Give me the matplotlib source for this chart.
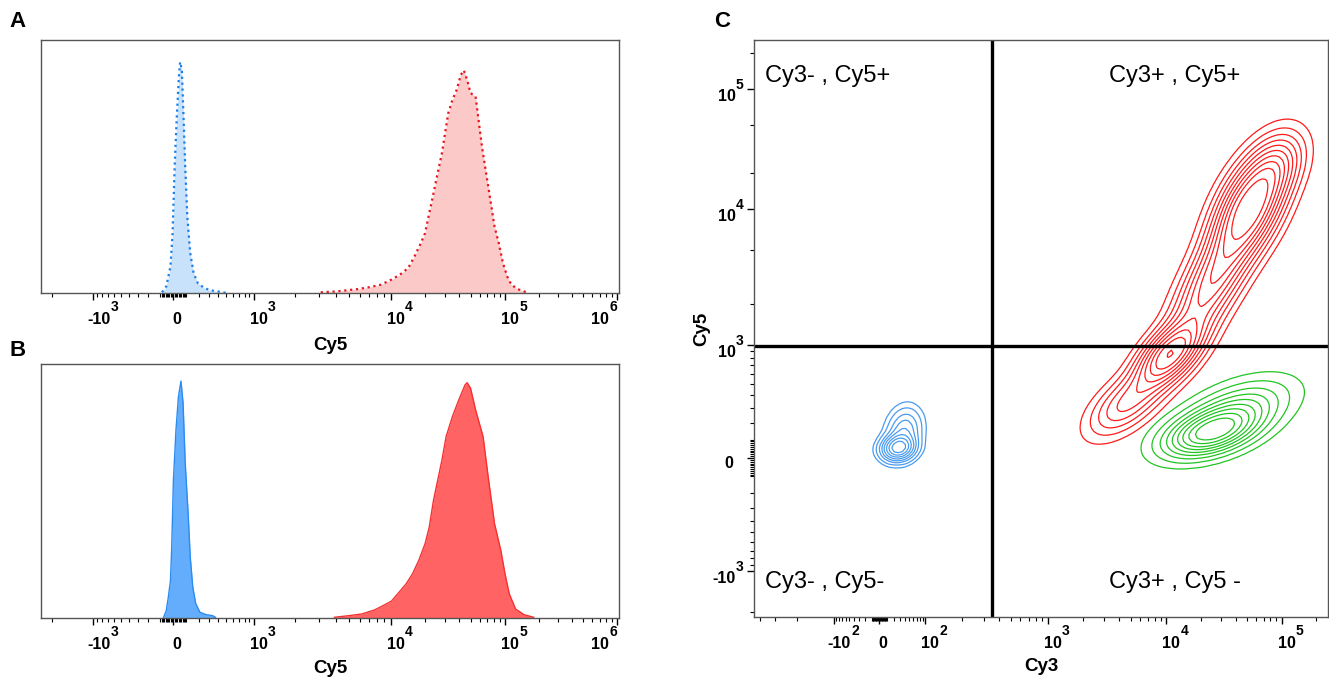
import matplotlib

matplotlib.use("Agg")
import matplotlib.pyplot as plt
import numpy as np
from matplotlib.transforms import blended_transform_factory, offset_copy

plt.rcParams["font.family"] = ["Liberation Sans", "DejaVu Sans"]

# --- axis layout: display channel (0-1024) of each decade on the biex axes
hist_zero_ch = 234.6
hist_decade_ch = {3: 377.0, 4: 619.3, 5: 822.0, 6: 1020.4}
cy3_zero_ch = 223.6
cy3_decade_ch = {2: 304.9, 3: 523.4, 4: 735.3, 5: 940.4}
cy5_zero_ch = 282.2
cy5_decade_ch = {3: 483.3, 4: 723.6, 5: 936.5}

# --- panel A: Cy5 histograms (channel, % of tallest peak)
a_blue_ch = [214.5, 222.0, 229.4, 233.1, 236.8, 240.6, 244.3, 246.5, 249.5,
             252.5, 255.5, 259.2, 264.4, 270.4, 277.8, 289.0, 300.2, 315.1, 330.0]
a_blue_count = [0.3, 2.9, 11.5, 25.9, 54.8, 76.4, 93.7, 100.0, 96.5,
                76.4, 54.8, 33.1, 17.3, 8.6, 4.3, 2.2, 1.2, 0.6, 0.0]
a_red_ch = [495.6, 523.9, 561.2, 583.5, 602.2, 620.8, 635.7, 650.6, 661.8,
            673.0, 680.4, 687.9, 695.4, 702.8, 710.3, 717.7, 721.5, 728.9,
            736.4, 743.8, 749.1, 755.0, 761.0, 766.2, 770.0, 773.7, 781.2,
            788.6, 796.1, 803.5, 811.0, 818.4, 825.9, 833.3, 844.5, 855.7, 863.1]
a_red_count = [0.3, 0.7, 1.7, 2.6, 3.6, 5.8, 7.9, 10.8, 15.9,
               21.6, 25.9, 34.6, 43.2, 51.9, 60.5, 72.0, 77.8, 83.6,
               87.9, 94.4, 96.4, 92.2, 86.5, 85.7, 85.0, 77.8, 63.4,
               51.9, 40.3, 28.8, 21.6, 13.0, 7.2, 3.6, 1.7, 0.7, 0.0]
a_count_max = 109.5

# --- panel B: Cy5 histograms
b_blue_ch = [216.7, 221.9, 225.6, 229.4, 231.6, 234.6, 239.1, 243.5, 248.0,
             251.7, 255.5, 260.7, 264.4, 268.9, 274.1, 281.6, 292.7, 303.9, 309.1]
b_blue_count = [0.0, 3.1, 8.8, 15.8, 29.9, 58.1, 79.2, 93.4, 100.0,
                90.7, 65.3, 44.1, 25.8, 13.1, 6.1, 2.4, 1.4, 1.0, 0.3]
b_red_ch = [520.1, 546.2, 568.6, 591.0, 605.9, 620.8, 632.0, 646.9, 658.1,
            669.3, 680.4, 687.9, 695.4, 702.8, 710.3, 717.7, 728.9, 740.1,
            751.3, 755.0, 761.0, 770.0, 783.3, 792.3, 803.5, 814.7, 822.1,
            829.6, 840.8, 855.7, 872.8]
b_red_count = [0.3, 1.0, 1.7, 3.4, 5.2, 7.1, 10.2, 14.4, 18.6,
               24.3, 31.3, 38.4, 49.7, 58.1, 66.6, 76.5, 85.0, 92.0,
               98.4, 99.3, 97.0, 87.8, 76.5, 59.5, 39.8, 28.5, 18.6,
               10.2, 3.8, 1.4, 0.3]
b_count_max = 107.2

# --- panel C: populations (cy3 ch, cy5 ch, sd cy3, sd cy5, corr, weight)
blue_pop = [(257, 300, 17, 13, 0.1, 1.0),
            (268, 330, 18, 24, 0.15, 0.35)]
red_pop = [(885, 730, 38, 55, 0.55, 1.0),
           (820, 600, 45, 70, 0.75, 0.55),
           (740, 465, 35, 35, 0.6, 0.8),
           (665, 380, 40, 35, 0.6, 0.3),
           (930, 800, 30, 35, 0.4, 0.25)]
green_pop = [(815, 328, 48, 25, 0.45, 1.0),
             (860, 365, 55, 32, 0.5, 0.4)]
blue_levels = [0.03, 0.07, 0.14, 0.22, 0.32, 0.45, 0.6, 0.78]
red_levels = [0.03, 0.07, 0.12, 0.18, 0.25, 0.33, 0.42, 0.52, 0.63, 0.78]
green_levels = [0.03, 0.08, 0.15, 0.23, 0.32, 0.42, 0.53, 0.66, 0.8]
cy3_gate_ch = 424.7
cy5_gate_ch = 481.0
quadrant_labels = ["Cy3- , Cy5+", "Cy3+ , Cy5+", "Cy3- , Cy5-", "Cy3+ , Cy5 -"]


def biex_channel(value, zero_ch, decade_ch):
    exps = sorted(decade_ch)
    logs = np.array(exps, dtype=float)
    chans = np.array([decade_ch[e] for e in exps])
    first = 10.0 ** exps[0]
    mag = abs(value)
    if mag >= first:
        lg = np.log10(mag)
        if lg > logs[-1]:
            ch = chans[-1] + (lg - logs[-1]) * (chans[-1] - chans[-2])
        else:
            ch = np.interp(lg, logs, chans)
    else:
        c = first / 3.0
        ch = zero_ch + (chans[0] - zero_ch) * np.arcsinh(mag / c) / np.arcsinh(first / c)
    return zero_ch + np.sign(value) * (ch - zero_ch)


def major_values(decade_ch):
    exps = sorted(decade_ch)
    return [-(10.0 ** exps[0]), 0.0] + [10.0 ** e for e in exps]


def style_biex_axis(axis, zero_ch, decade_ch, log_mults):
    exps = sorted(decade_ch)
    axis.set_ticks([biex_channel(v, zero_ch, decade_ch)
                    for v in major_values(decade_ch)])
    axis.set_ticklabels([])

    minor_vals = []
    for k in range(exps[0] - 2, exps[0]):
        minor_vals += [m * 10.0 ** k for m in range(1, 10)]
    for k in range(exps[0], exps[-1] + 1):
        minor_vals += [m * 10.0 ** k for m in log_mults]
    minor_vals += [-v for v in minor_vals]
    minor_pos = [biex_channel(v, zero_ch, decade_ch) for v in minor_vals]
    axis.set_ticks([p for p in minor_pos if 0 < p < 1024], minor=True)


def label_parts(value):
    if value == 0:
        return "0", ""
    exp = int(round(np.log10(abs(value))))
    return ("-10" if value < 0 else "10"), str(exp)


def text_width(txt, renderer):
    return txt.get_window_extent(renderer).width


def decade_labels_x(fig, ax, zero_ch, decade_ch):
    renderer = fig.canvas.get_renderer()
    trans = blended_transform_factory(ax.transData, ax.transAxes)
    right_px = ax.get_window_extent(renderer).x1
    for v in major_values(decade_ch):
        ch = biex_channel(v, zero_ch, decade_ch)
        tick_px = ax.transData.transform((ch, 0))[0]
        base, sup = label_parts(v)
        kw = dict(fontsize=11.5, fontweight="bold", va="baseline", ha="left")
        t_base = ax.text(ch, 0, base, transform=trans, **kw)
        t_sup = ax.text(ch, 0, sup, transform=trans, **dict(kw, fontsize=10))
        bw = text_width(t_base, renderer)
        sw = text_width(t_sup, renderer) if sup else 0.0
        dx = -1.0 if v == 0 else (-6.0 if v < 0 else -4.0)
        if tick_px + dx + bw + sw > right_px:
            dx = right_px - 2.0 - bw - sw - tick_px
        t_base.set_transform(offset_copy(trans, fig=fig, x=dx, y=-31, units="dots"))
        t_sup.set_transform(offset_copy(trans, fig=fig, x=dx + bw + 0.5, y=-18,
                                        units="dots"))


def decade_labels_y(fig, ax, zero_ch, decade_ch):
    trans = blended_transform_factory(ax.transAxes, ax.transData)
    for v in major_values(decade_ch):
        ch = biex_channel(v, zero_ch, decade_ch)
        base, sup = label_parts(v)
        if v == 0:
            ax.text(0, ch, base, fontsize=11.5, fontweight="bold",
                    ha="right", va="baseline",
                    transform=offset_copy(trans, fig=fig, x=-21, y=-10, units="dots"))
            continue
        ax.text(0, ch, base, fontsize=11.5, fontweight="bold",
                ha="right", va="baseline",
                transform=offset_copy(trans, fig=fig, x=-18.5, y=-12, units="dots"))
        ax.text(0, ch, sup, fontsize=10, fontweight="bold",
                ha="left", va="baseline",
                transform=offset_copy(trans, fig=fig, x=-18, y=0, units="dots"))


def mixture_density(gx, gy, comps):
    z = np.zeros_like(gx)
    for cx, cy, sx, sy, rho, w in comps:
        dx = (gx - cx) / sx
        dy = (gy - cy) / sy
        q = (dx * dx - 2 * rho * dx * dy + dy * dy) / (1 - rho * rho)
        z += w * np.exp(-0.5 * q)
    return z / z.max()


def frame(ax):
    for spine in ax.spines.values():
        spine.set_color("#555555")
        spine.set_linewidth(1.0)
    ax.tick_params(which="major", length=5, width=1.0, color="black")
    ax.tick_params(which="minor", length=3, width=0.8, color="black")


fig = plt.figure(figsize=(13.29, 6.8), dpi=100)
ax_a = fig.add_axes([0.03085, 0.5691, 0.4349, 0.3721])
ax_b = fig.add_axes([0.03085, 0.0912, 0.4349, 0.3735])
ax_c = fig.add_axes([0.5673, 0.0926, 0.4323, 0.8485])

# panel A: dotted outlines over pale fills
ax_a.fill_between(a_blue_ch, a_blue_count, color="#C9E2FB", lw=0)
ax_a.plot(a_blue_ch, a_blue_count, ls=":", lw=1.6, color="#1A7FE8")
ax_a.fill_between(a_red_ch, a_red_count, color="#FCC9C9", lw=0)
ax_a.plot(a_red_ch, a_red_count, ls=":", lw=1.6, color="#E8141E")
ax_a.set_ylim(0, a_count_max)

# panel B: solid fills
ax_b.fill_between(b_blue_ch, b_blue_count, color="#63ADFC", lw=0)
ax_b.plot(b_blue_ch, b_blue_count, lw=1.0, color="#2A8CF0")
ax_b.fill_between(b_red_ch, b_red_count, color="#FF6363", lw=0)
ax_b.plot(b_red_ch, b_red_count, lw=1.0, color="#F53030")
ax_b.set_ylim(0, b_count_max)

for ax, label_y in ((ax_a, -0.174), (ax_b, -0.165)):
    ax.set_xlim(0, 1024)
    ax.set_yticks([])
    style_biex_axis(ax.xaxis, hist_zero_ch, hist_decade_ch, range(2, 10))
    frame(ax)
    ax.set_xlabel("Cy5", fontsize=13.5, fontweight="bold")
    ax.xaxis.set_label_coords(0.5, label_y)

# panel C: contour plot with quadrant gate
grid = np.arange(0, 1025, 6.0)
gx, gy = np.meshgrid(grid, grid)
for comps, levels, color in ((blue_pop, blue_levels, "#4A9BEE"),
                             (red_pop, red_levels, "#FF1A1A"),
                             (green_pop, green_levels, "#22C422")):
    ax_c.contour(gx, gy, mixture_density(gx, gy, comps), levels=levels,
                 colors=color, linewidths=0.9)

ax_c.axvline(cy3_gate_ch, color="black", lw=2.4)
ax_c.axhline(cy5_gate_ch, color="black", lw=2.4)
ax_c.set_xlim(0, 1024)
ax_c.set_ylim(0, 1024)
style_biex_axis(ax_c.xaxis, cy3_zero_ch, cy3_decade_ch, range(2, 10))
style_biex_axis(ax_c.yaxis, cy5_zero_ch, cy5_decade_ch, (2, 5))
frame(ax_c)
ax_c.set_xlabel("Cy3", fontsize=13.5, fontweight="bold")
ax_c.xaxis.set_label_coords(0.5, -0.071)
ax_c.set_ylabel("Cy5", fontsize=13.5, fontweight="bold")
ax_c.yaxis.set_label_coords(-0.0765, 0.5)

for text, (tx, ty) in zip(quadrant_labels,
                          [(0.019, 0.9376), (0.618, 0.9376),
                           (0.019, 0.0607), (0.618, 0.0607)]):
    ax_c.text(tx, ty, text, transform=ax_c.transAxes, fontsize=17,
              ha="left", va="center")

for letter, (lx, ly) in zip("ABC", [(0.0135, 0.968), (0.0135, 0.485),
                                    (0.5435, 0.968)]):
    fig.text(lx, ly, letter, fontsize=16, fontweight="bold",
             ha="center", va="center")

decade_labels_x(fig, ax_a, hist_zero_ch, hist_decade_ch)
decade_labels_x(fig, ax_b, hist_zero_ch, hist_decade_ch)
decade_labels_x(fig, ax_c, cy3_zero_ch, cy3_decade_ch)
decade_labels_y(fig, ax_c, cy5_zero_ch, cy5_decade_ch)

fig.savefig("out.png", dpi=100)
